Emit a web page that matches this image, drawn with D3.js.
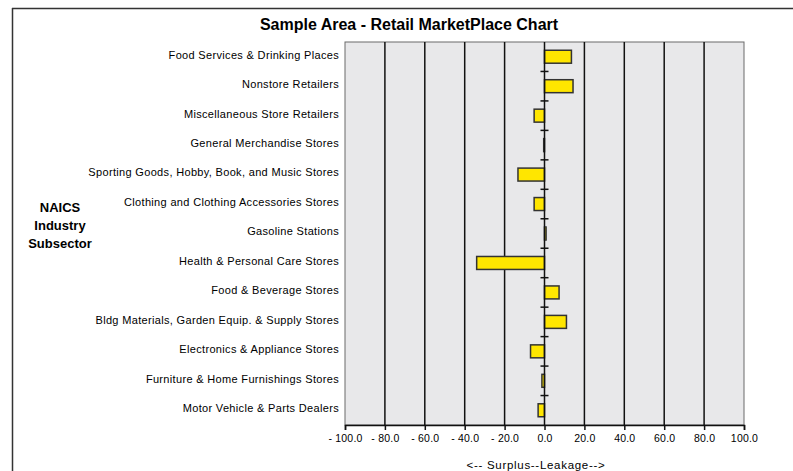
<!DOCTYPE html>
<html>
<head>
<meta charset="utf-8">
<script src="https://cdn.jsdelivr.net/npm/d3@7"></script>
<style>
html,body{margin:0;padding:0;background:#fff;}
svg{display:block;}
text{font-family:"Liberation Sans",Arial,sans-serif;}
</style>
</head>
<body>
<svg id="chart" width="793" height="471"></svg>
<script>
const categories = [
  "Food Services & Drinking Places",
  "Nonstore Retailers",
  "Miscellaneous Store Retailers",
  "General Merchandise Stores",
  "Sporting Goods, Hobby, Book, and Music Stores",
  "Clothing and Clothing Accessories Stores",
  "Gasoline Stations",
  "Health & Personal Care Stores",
  "Food & Beverage Stores",
  "Bldg Materials, Garden Equip. & Supply Stores",
  "Electronics & Appliance Stores",
  "Furniture & Home Furnishings Stores",
  "Motor Vehicle & Parts Dealers"
];
const values = [13.5, 14.3, -5.2, -0.4, -13.3, -5.2, 0.8, -34.0, 7.3, 11.0, -7.0, -1.3, -3.2];
const xTicks = [-100, -80, -60, -40, -20, 0, 20, 40, 60, 80, 100];
const title = "Sample Area - Retail MarketPlace Chart";
const yTitle = ["NAICS", "Industry", "Subsector"];
const xTitle = "<-- Surplus--Leakage-->";

const svg = d3.select("#chart");
const plot = {left: 345, right: 744, top: 42, bottom: 425};

// outer frame
svg.append("line").attr("x1", 12).attr("x2", 793).attr("y1", 8.5).attr("y2", 8.5)
  .attr("stroke", "#333").attr("stroke-width", 1.5);
svg.append("line").attr("x1", 12.5).attr("x2", 12.5).attr("y1", 8).attr("y2", 471)
  .attr("stroke", "#333").attr("stroke-width", 1.5);

const x = d3.scaleLinear().domain([-100, 100]).range([plot.left, plot.right]);
const y = d3.scaleBand().domain(categories).range([plot.top, plot.bottom]).paddingInner(0.56).paddingOuter(0.28);
const yb = d3.scaleBand().domain(categories).range([plot.top, plot.bottom]);

// plot background
svg.append("rect").attr("x", plot.left).attr("y", plot.top)
  .attr("width", plot.right - plot.left).attr("height", plot.bottom - plot.top)
  .attr("fill", "#e8e8ea").attr("stroke", "#6a6a6a").attr("stroke-width", 1);

// gridlines
svg.append("g").selectAll("line").data(xTicks.filter(d => d !== 0 && d !== -100 && d !== 100)).join("line")
  .attr("x1", d => x(d)).attr("x2", d => x(d))
  .attr("y1", plot.top).attr("y2", plot.bottom)
  .attr("stroke", "#111").attr("stroke-width", 1.5);

// x axis
const xAxis = d3.axisBottom(x).tickValues(xTicks).tickSize(5).tickFormat(d3.format(".1f"));
const gx = svg.append("g").attr("transform", `translate(0,${plot.bottom})`).call(xAxis);
gx.select(".domain").attr("stroke", "#111").attr("stroke-width", 1.5);
gx.selectAll(".tick line").attr("stroke", "#111").attr("stroke-width", 1.5);
gx.selectAll(".tick text").attr("font-size", 10.5).attr("fill", "#000").attr("dy", "0.9em")
  .attr("letter-spacing", 0.2)
  .text(d => d < 0 ? "- " + d3.format(".1f")(-d) : d3.format(".1f")(d));

// bars
svg.append("g").selectAll("rect").data(values).join("rect")
  .attr("x", d => x(Math.min(0, d)))
  .attr("y", (d, i) => y(categories[i]))
  .attr("width", d => Math.abs(x(d) - x(0)))
  .attr("height", y.bandwidth())
  .attr("fill", "#ffe600").attr("stroke", "#333").attr("stroke-width", 1.5);

// zero axis with category ticks
svg.append("line").attr("x1", x(0)).attr("x2", x(0)).attr("y1", plot.top).attr("y2", plot.bottom)
  .attr("stroke", "#111").attr("stroke-width", 1.5);
svg.append("g").selectAll("line").data(categories.slice(1)).join("line")
  .attr("x1", x(0) - 4).attr("x2", x(0) + 4)
  .attr("y1", d => yb(d)).attr("y2", d => yb(d))
  .attr("stroke", "#111").attr("stroke-width", 1.5);

// category labels
svg.append("g").selectAll("text").data(categories).join("text")
  .attr("x", 339).attr("y", d => yb(d) + yb.bandwidth() / 2 - 1)
  .attr("text-anchor", "end").attr("dominant-baseline", "middle")
  .attr("font-size", 11).attr("letter-spacing", 0.33).attr("fill", "#000").text(d => d);

// title
svg.append("text").attr("x", 409).attr("y", 30).attr("text-anchor", "middle")
  .attr("font-size", 16).attr("font-weight", "bold").attr("fill", "#000").text(title);

// y title
svg.append("g").selectAll("text").data(yTitle).join("text")
  .attr("x", 60).attr("y", (d, i) => 212 + i * 18).attr("text-anchor", "middle")
  .attr("font-size", 13).attr("font-weight", "bold").attr("fill", "#000").text(d => d);

// x title
svg.append("text").attr("x", 536).attr("y", 469).attr("text-anchor", "middle")
  .attr("font-size", 11.5).attr("letter-spacing", 0.7).attr("fill", "#000").text(xTitle);
</script>
</body>
</html>
